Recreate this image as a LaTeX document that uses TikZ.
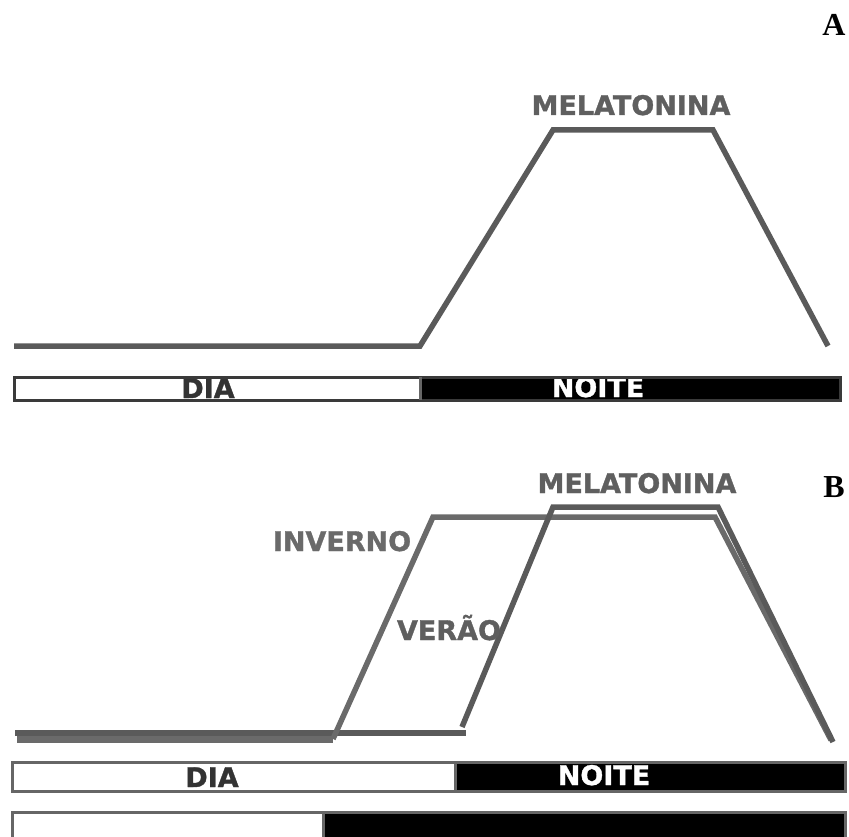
\documentclass[tikz,border=0pt]{standalone}
\usepackage{fontspec}
\setmainfont{Liberation Serif}
\newfontfamily\lblfont{DejaVu Sans}[BoldFeatures={FakeBold=1.2}]
\definecolor{curvegray}{HTML}{5A5A5A}
\definecolor{wintergray}{HTML}{6A6A6A}
\definecolor{textgray}{HTML}{5F5F5F}
\definecolor{bordertop}{HTML}{3A3A3A}
\definecolor{borderbot}{HTML}{666666}
\definecolor{daytext}{HTML}{333333}

\begin{document}
\begin{tikzpicture}[x=1pt, y=-1pt]

	% Styles
	\tikzset{
		curve/.style={line width=5.5pt, draw=curvegray, line join=miter},
		wintercurve/.style={line width=5.5pt, draw=wintergray, line join=miter},
		barline/.style={line width=3pt},
		lbl/.style={anchor=base, inner sep=0pt, font=\lblfont\bfseries\fontsize{27}{32}\selectfont},
		curvelbl/.style={lbl, text=textgray},
		daylbl/.style={lbl, text=daytext},
		nightlbl/.style={lbl, text=white},
		panel/.style={anchor=base, inner sep=0pt, font=\bfseries\fontsize{32}{36}\selectfont}
	}

	\useasboundingbox (0,0) rectangle (849,837);

	% Panel A
	\draw[curve] (14,346) -- (420,346) -- (553,130) -- (713,130) -- (828,346);
	\node[curvelbl] (melA) at (631,115) {MELATONINA};
	\node[panel] (panA) at (834,36) {A};

	\fill[black] (420,377) rectangle (840,400);
	\node[daylbl] (diaA) at (208,398) {DIA};
	\node[nightlbl] (noiteA) at (598,397) {NOITE};
	\draw[barline, draw=bordertop] (14,377) rectangle (840,400);
	\draw[barline, draw=borderbot] (420,377) -- (420,400);

	% Panel B
	\draw[wintercurve, line width=7pt] (17,739) -- (333,739);
	\draw[curve] (15,733) -- (466,733);
	\draw[wintercurve] (333,739) -- (433,517) -- (715,517) -- (831,740);
	\draw[curve] (462,727) -- (553,507) -- (718,507) -- (833,742);
	\node[curvelbl] (melB) at (637,493) {MELATONINA};
	\node[curvelbl, text=wintergray] (inverno) at (342,551) {INVERNO};
	\node[curvelbl] (verao) at (449,640) {VERÃO};
	\node[panel] (panB) at (834,497) {B};

	\fill[black] (455,762) rectangle (845,791);
	\node[daylbl] (diaB) at (212,787) {DIA};
	\node[nightlbl] (noiteB) at (604,785) {NOITE};
	\draw[barline, draw=borderbot] (12,762) rectangle (845,791);
	\draw[barline, draw=borderbot] (455,762) -- (455,791);

	\fill[black] (323,812) rectangle (845,840);
	\draw[barline, draw=borderbot] (12,812) rectangle (845,840);
	\draw[barline, draw=borderbot] (323,812) -- (323,840);

\end{tikzpicture}
\end{document}
